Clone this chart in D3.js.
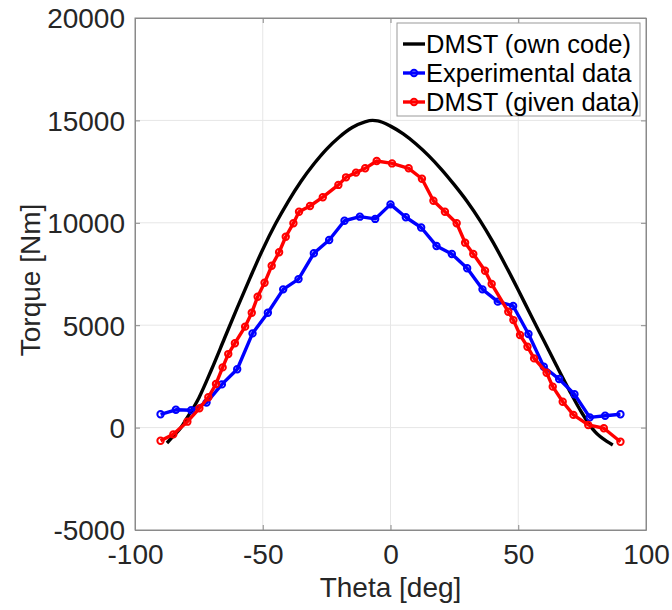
<!DOCTYPE html>
<html>
<head>
<meta charset="utf-8">
<script src="https://cdn.jsdelivr.net/npm/d3@7"></script>
<style>
  body { margin: 0; background: #fff; }
  text { font-family: "Liberation Sans", Arial, sans-serif; }
</style>
</head>
<body>
<div id="chart"></div>
<script>
/* DMST (own code) - smooth curve */
const ownTheta = [-87.5, -85, -82, -80, -75, -70, -65, -60, -55, -50, -45, -40, -35, -30, -25, -20, -15, -10, -7, -5,
  0, 5, 10, 15, 20, 25, 30, 35, 40, 45, 50, 55, 60, 65, 70, 75, 80, 85, 87];
const ownTorque = [-750, -420, 0, 400, 1450, 2850, 4350, 5850, 7300, 8700, 9950, 11050, 12030, 12870, 13600, 14190, 14650, 14930, 15000, 14980,
  14720, 14340, 13850, 13270, 12600, 11850, 11040, 10120, 9080, 7930, 6720, 5470, 4250, 3020, 1820, 700, -200, -700, -850];

/* Experimental data */
const expTheta = [-90, -84, -78, -72, -66, -60, -54, -48, -42, -36, -30, -24, -18, -12, -6,
  0, 6, 12, 18, 24, 30, 36, 42, 48, 54, 60, 66, 72, 78, 84, 90];
const expTorque = [650, 870, 850, 1220, 2110, 2850, 4600, 5610, 6750, 7250, 8510, 9160, 10100, 10300, 10190,
  10900, 10270, 9770, 8870, 8480, 7780, 6750, 6150, 5940, 4570, 2970, 2370, 1630, 500, 580, 650];

/* DMST (given data) */
const givenTheta = [-90, -85, -79.5, -74.8, -71.3, -68.3, -65.7, -63.5, -60.9, -56.9, -54.3, -52, -49.3, -46.5, -43.6,
  -41, -38, -35.8, -31.5, -26.5, -20.4, -17.4, -13.5, -9.9, -5.4, 0.6, 7.1, 12.3, 16.8, 21.3, 25.9, 29.2, 32.4,
  37, 39.6, 46.1, 48.1, 50.7, 53.6, 56.2, 61.1, 63.5, 67.4, 71.6, 77.4, 83.5, 90];
const givenTorque = [-640, -330, 290, 940, 1480, 2130, 2940, 3590, 4120, 4930, 5610, 6390, 7070, 7900, 8560,
  9320, 9980, 10540, 10820, 11250, 11850, 12220, 12450, 12660, 13020, 12900, 12660, 12150, 11080, 10540, 9980, 9030, 8480,
  7660, 7010, 5660, 5250, 4520, 3950, 3380, 2680, 2000, 1260, 620, 130, -30, -690];

const xTicks = [-100, -50, 0, 50, 100];
const yTicks = [-5000, 0, 5000, 10000, 15000, 20000];
const legendLabels = ["DMST (own code)", "Experimental data", "DMST (given data)"];

const W = 672, H = 610;
const margin = {top: 18, right: 26, bottom: 80, left: 135};
const width = W - margin.left - margin.right;
const height = H - margin.top - margin.bottom;

const svg = d3.select("#chart").append("svg")
  .attr("width", W)
  .attr("height", H);

const g = svg.append("g")
  .attr("transform", `translate(${margin.left},${margin.top})`);

const x = d3.scaleLinear().domain([-100, 100]).range([0, width]);
const y = d3.scaleLinear().domain([-5000, 20000]).range([height, 0]);

/* grid */
g.append("g").selectAll("line")
  .data(xTicks.slice(1, -1))
  .join("line")
    .attr("x1", d => x(d)).attr("x2", d => x(d))
    .attr("y1", 0).attr("y2", height)
    .attr("stroke", "#e6e6e6");
g.append("g").selectAll("line")
  .data(yTicks.slice(1, -1))
  .join("line")
    .attr("x1", 0).attr("x2", width)
    .attr("y1", d => y(d)).attr("y2", d => y(d))
    .attr("stroke", "#e6e6e6");

/* axes, ticks pointing inward like matlab, plain hyphen minus */
const fmt = d => d.toString();
const xAxis = g.append("g")
  .attr("transform", `translate(0,${height})`)
  .call(d3.axisBottom(x).tickValues(xTicks).tickFormat(fmt).tickSizeInner(-5).tickSizeOuter(0).tickPadding(14));
const xTop = g.append("g")
  .call(d3.axisTop(x).tickValues(xTicks).tickFormat("").tickSizeInner(-5).tickSizeOuter(0));
const yAxis = g.append("g")
  .call(d3.axisLeft(y).tickValues(yTicks).tickFormat(fmt).tickSizeInner(-5).tickSizeOuter(0).tickPadding(10));
const yRight = g.append("g")
  .attr("transform", `translate(${width},0)`)
  .call(d3.axisRight(y).tickValues(yTicks).tickFormat("").tickSizeInner(-5).tickSizeOuter(0));

[xAxis, xTop, yAxis, yRight].forEach(a => {
  a.select(".domain").attr("stroke", "#8a8a8a");
  a.selectAll(".tick line").attr("stroke", "#8a8a8a");
  a.selectAll("text")
    .attr("fill", "#262626")
    .style("font-size", "28px");
});
xAxis.selectAll("text").attr("dy", "0.71em");
yAxis.selectAll("text").attr("dy", "0.35em");

/* axis titles */
g.append("text")
  .attr("x", width / 2)
  .attr("y", height + 67)
  .attr("text-anchor", "middle")
  .attr("fill", "#262626")
  .style("font-size", "28px")
  .text("Theta [deg]");

g.append("text")
  .attr("transform", `translate(${40 - margin.left},${height / 2 + 6}) rotate(-90)`)
  .attr("text-anchor", "middle")
  .attr("fill", "#262626")
  .style("font-size", "28px")
  .text("Torque [Nm]");

/* series */
const ownLine = d3.line()
  .x((d, i) => x(ownTheta[i]))
  .y(d => y(d))
  .curve(d3.curveMonotoneX);

const pointLine = (thetas) => d3.line()
  .x((d, i) => x(thetas[i]))
  .y(d => y(d));

g.append("path")
  .attr("d", ownLine(ownTorque))
  .attr("fill", "none")
  .attr("stroke", "#000")
  .attr("stroke-width", 3.4);

const series = [
  {theta: expTheta, torque: expTorque, color: "#0000ff"},
  {theta: givenTheta, torque: givenTorque, color: "#ff0000"}
];

series.forEach(s => {
  g.append("path")
    .attr("d", pointLine(s.theta)(s.torque))
    .attr("fill", "none")
    .attr("stroke", s.color)
    .attr("stroke-width", 3.4)
    .attr("stroke-linejoin", "round");
  g.append("g").selectAll("circle")
    .data(s.torque)
    .join("circle")
      .attr("cx", (d, i) => x(s.theta[i]))
      .attr("cy", d => y(d))
      .attr("r", 3.2)
      .attr("fill", "none")
      .attr("stroke", s.color)
      .attr("stroke-width", 2);
});

/* box */
g.append("rect")
  .attr("width", width).attr("height", height)
  .attr("fill", "none")
  .attr("stroke", "#8a8a8a");

/* legend */
const legend = svg.append("g").attr("transform", "translate(397,23)");
legend.append("rect")
  .attr("width", 243).attr("height", 93)
  .attr("fill", "#fff")
  .attr("stroke", "#9a9a9a");

const legendColors = ["#000", "#0000ff", "#ff0000"];
legendLabels.forEach((lab, i) => {
  const row = legend.append("g").attr("transform", `translate(0,${21 + i * 29})`);
  row.append("line")
    .attr("x1", 6).attr("x2", 28)
    .attr("stroke", legendColors[i])
    .attr("stroke-width", 3.4);
  if (i > 0) {
    row.append("circle")
      .attr("cx", 17).attr("r", 3.2)
      .attr("fill", "none")
      .attr("stroke", legendColors[i])
      .attr("stroke-width", 2);
  }
  row.append("text")
    .attr("x", 29)
    .attr("dy", "0.35em")
    .attr("fill", "#000")
    .style("font-size", "25.5px")
    .text(lab);
});
</script>
</body>
</html>
